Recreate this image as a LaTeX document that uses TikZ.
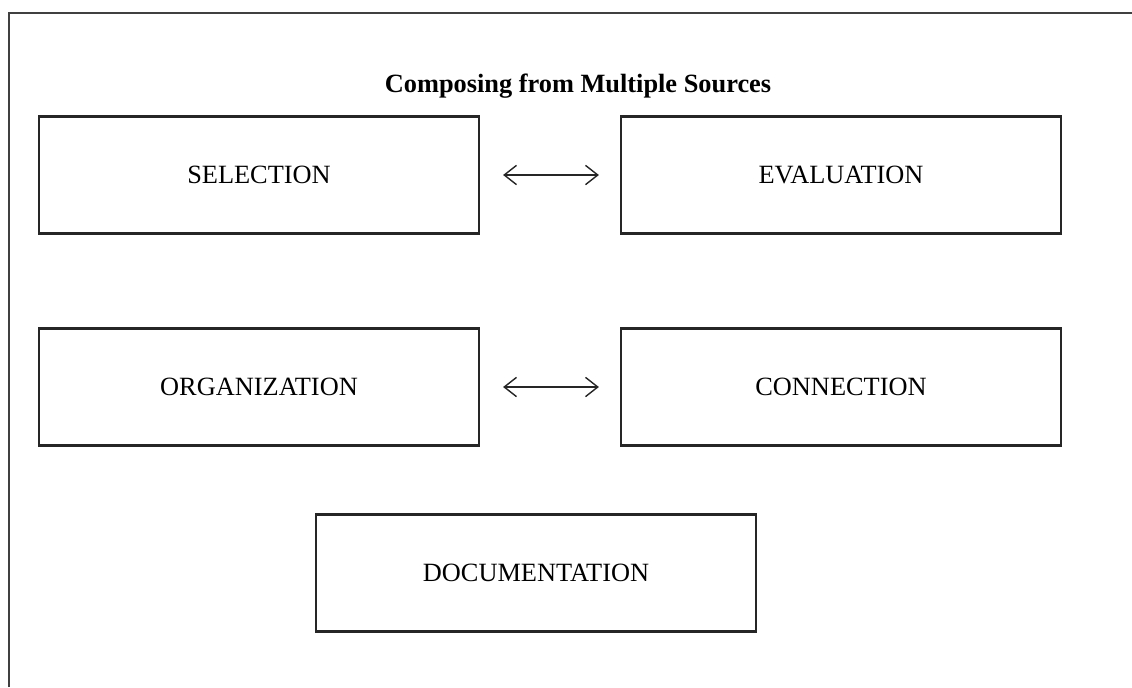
\documentclass[tikz,border=0pt]{standalone}
\usepackage{fontspec}
\setmainfont{Liberation Serif}
\usetikzlibrary{arrows.meta}
\tikzset{
  stagebox/.style={draw=black!85,line width=1.3pt,minimum width=8.8cm,minimum height=2.34cm,
    inner sep=0pt,font=\fontsize{15}{18}\selectfont},
  linkarrow/.style={black!85,line width=0.8pt,{Straight Barb[length=7pt,width=11pt]}-{Straight Barb[length=7pt,width=11pt]},
    shorten <=0.46cm,shorten >=0.42cm}
}
\begin{document}
\begin{tikzpicture}[x=0.02cm,y=-0.02cm]
    \useasboundingbox (0,0) rectangle (1132,687);
    \draw [black!75,line width=1.2pt] (9,687) -- (9,13) -- (1132,13);
    \node [font=\fontsize{15}{18}\bfseries] (title) at (578,86) {Composing from Multiple Sources};
    \node [stagebox] (sel) at (259,175) {SELECTION};
    \node [stagebox] (eval) at (841,175) {EVALUATION};
    \node [stagebox] (org) at (259,387) {ORGANIZATION};
    \node [stagebox] (conn) at (841,387) {CONNECTION};
    \node [stagebox] (doc) at (536,573) {DOCUMENTATION};
    \draw [linkarrow] (sel) -- (eval);
    \draw [linkarrow] (org) -- (conn);
\end{tikzpicture}
\end{document}
